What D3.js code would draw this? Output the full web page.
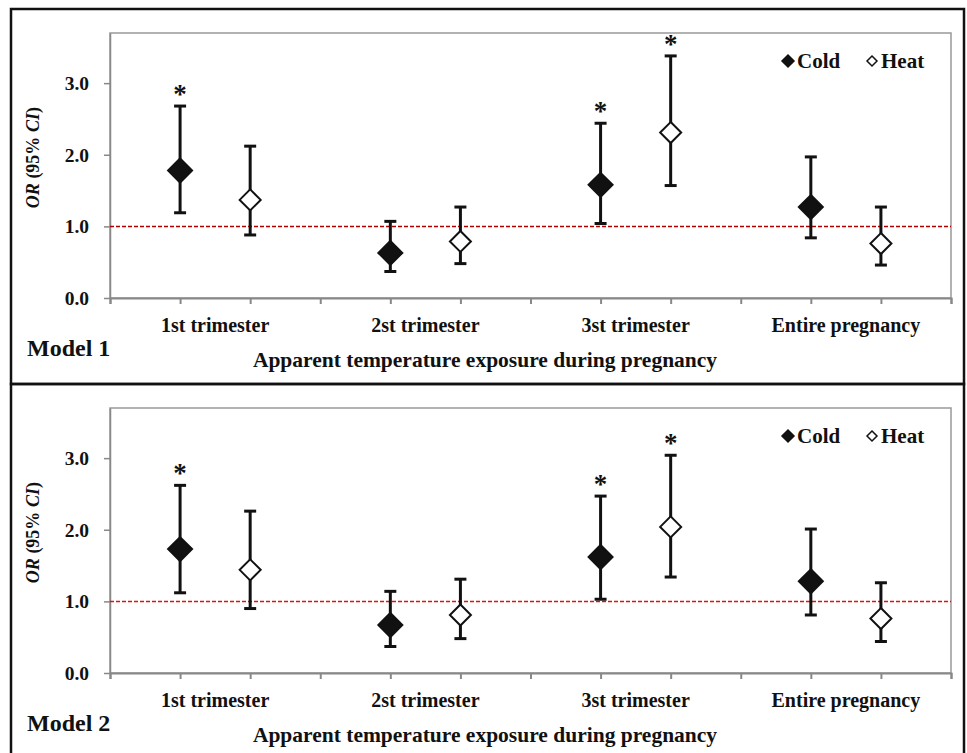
<!DOCTYPE html>
<html>
<head>
<meta charset="utf-8">
<script src="https://cdn.jsdelivr.net/npm/d3@7"></script>
<style>
  body { margin: 0; background: #fff; }
  svg { font-family: "Liberation Serif", "Times New Roman", "DejaVu Serif", serif; }
  svg text { font-family: "Liberation Serif", "Times New Roman", "DejaVu Serif", serif; font-weight: bold; fill: #111; }
  .axis path, .axis line { stroke: #888; }
</style>
</head>
<body>
<script>
// categories along the x axis
var categories = ["1st trimester", "2st trimester", "3st trimester", "Entire pregnancy"];
var seriesNames = ["Cold", "Heat"];
var yTicks = [0, 1, 2, 3];

// Model 1 odds ratios and 95% CI
var m1ColdOR   = [1.78, 0.63, 1.58, 1.27];
var m1ColdLow  = [1.19, 0.37, 1.04, 0.84];
var m1ColdHigh = [2.68, 1.07, 2.44, 1.97];
var m1HeatOR   = [1.37, 0.79, 2.31, 0.76];
var m1HeatLow  = [0.88, 0.48, 1.57, 0.46];
var m1HeatHigh = [2.12, 1.27, 3.38, 1.27];
var m1ColdSig  = [true, false, true, false];
var m1HeatSig  = [false, false, true, false];

// Model 2 odds ratios and 95% CI
var m2ColdOR   = [1.73, 0.67, 1.62, 1.28];
var m2ColdLow  = [1.12, 0.37, 1.03, 0.81];
var m2ColdHigh = [2.62, 1.14, 2.47, 2.01];
var m2HeatOR   = [1.44, 0.81, 2.04, 0.76];
var m2HeatLow  = [0.90, 0.48, 1.34, 0.44];
var m2HeatHigh = [2.26, 1.31, 3.04, 1.26];
var m2ColdSig  = [true, false, true, false];
var m2HeatSig  = [false, false, true, false];

var FONT = "'Liberation Serif', 'Times New Roman', 'DejaVu Serif', serif";
var W = 967, H = 753;
var svg = d3.select("body").append("svg").attr("width", W).attr("height", H)
  .attr("font-family", FONT);

function rows(or, lo, hi, sig, s) {
  return categories.map(function(c, i) {
    return { cat: i, series: s, or: or[i], lo: lo[i], hi: hi[i], sig: sig[i] };
  });
}

function drawPanel(top, label, refColor, data) {
  var g = svg.append("g").attr("transform", "translate(0," + top + ")");

  // outer frame
  g.append("rect")
    .attr("x", 11).attr("y", 9).attr("width", 953).attr("height", top === 0 ? 375 : 380)
    .attr("fill", "none").attr("stroke", "#111").attr("stroke-width", 2.5);

  var x = d3.scaleLinear().domain([0, 12]).range([110, 951]);
  var y = d3.scaleLinear().domain([0, 3.7]).range([298, 33]);

  // plot area border
  g.append("rect")
    .attr("x", x(0)).attr("y", y(3.7)).attr("width", x(12) - x(0)).attr("height", y(0) - y(3.7))
    .attr("fill", "none").attr("stroke", "#999").attr("stroke-width", 1.5);

  var xAxis = d3.axisBottom(x).tickValues(d3.range(0, 13)).tickFormat("").tickSize(6).tickSizeOuter(6);
  g.append("g").attr("class", "axis").attr("transform", "translate(0," + y(0) + ")")
    .call(xAxis)
    .call(function(a) { a.selectAll("path, line").attr("stroke-width", 2); });

  var yAxis = d3.axisLeft(y).tickValues(yTicks).tickFormat(d3.format(".1f")).tickSize(6).tickSizeOuter(0);
  g.append("g").attr("class", "axis").attr("transform", "translate(" + x(0) + ",0)")
    .call(yAxis)
    .call(function(a) {
      a.attr("font-family", FONT);
      a.selectAll("path, line").attr("stroke-width", 1.5);
      a.selectAll("text").attr("font-size", 19.5).attr("x", -21).attr("fill", "#111")
        .style("font-family", FONT).style("font-weight", "bold");
    });

  // reference line at OR = 1
  g.append("line")
    .attr("x1", x(0)).attr("x2", x(12)).attr("y1", y(1)).attr("y2", y(1))
    .attr("stroke", refColor).attr("stroke-width", 1.5).attr("stroke-dasharray", "4,2");

  // category labels
  g.selectAll("text.cat").data(categories).enter().append("text")
    .attr("class", "cat")
    .attr("x", function(d, i) { return x(3 * i + 1.5); })
    .attr("y", 332)
    .attr("text-anchor", "middle").attr("font-size", 20)
    .text(function(d) { return d; });

  function xPos(d) { return x(3 * d.cat + (d.series === "Cold" ? 1 : 2)); }

  // error bars
  var eb = g.selectAll("g.eb").data(data).enter().append("g").attr("class", "eb");
  eb.append("line")
    .attr("x1", xPos).attr("x2", xPos)
    .attr("y1", function(d) { return y(d.lo); }).attr("y2", function(d) { return y(d.hi); })
    .attr("stroke", "#111").attr("stroke-width", 3);
  eb.append("line")
    .attr("x1", function(d) { return xPos(d) - 6; }).attr("x2", function(d) { return xPos(d) + 6; })
    .attr("y1", function(d) { return y(d.hi); }).attr("y2", function(d) { return y(d.hi); })
    .attr("stroke", "#111").attr("stroke-width", 3);
  eb.append("line")
    .attr("x1", function(d) { return xPos(d) - 6; }).attr("x2", function(d) { return xPos(d) + 6; })
    .attr("y1", function(d) { return y(d.lo); }).attr("y2", function(d) { return y(d.lo); })
    .attr("stroke", "#111").attr("stroke-width", 3);

  // markers
  g.selectAll("path.pt").data(data).enter().append("path")
    .attr("class", "pt")
    .attr("d", function(d) { return d.series === "Cold" ? "M0,-12L12,0L0,12L-12,0Z" : "M0,-10.5L10.5,0L0,10.5L-10.5,0Z"; })
    .attr("transform", function(d) { return "translate(" + xPos(d) + "," + y(d.or) + ")"; })
    .attr("fill", function(d) { return d.series === "Cold" ? "#111" : "#fff"; })
    .attr("stroke", "#111").attr("stroke-width", 2);

  // significance stars
  g.selectAll("text.star").data(data.filter(function(d) { return d.sig; })).enter().append("text")
    .attr("class", "star")
    .attr("x", xPos)
    .attr("y", function(d) { return y(d.hi) - 3; })
    .attr("text-anchor", "middle").attr("font-size", 27)
    .text("*");

  // legend
  var leg = g.append("g").attr("transform", "translate(788,61)");
  seriesNames.forEach(function(s, i) {
    var lx = i * 84;
    leg.append("path")
      .attr("d", i === 0 ? "M0,-6L6,0L0,6L-6,0Z" : "M0,-5L5,0L0,5L-5,0Z")
      .attr("transform", "translate(" + lx + ",0)")
      .attr("fill", i === 0 ? "#111" : "#fff").attr("stroke", "#111").attr("stroke-width", 1.5);
    leg.append("text").attr("x", lx + 9).attr("y", 6.5).attr("font-size", 21).text(s);
  });

  // y axis title
  var yt = g.append("text")
    .attr("transform", "translate(39," + y(1.96) + ")rotate(-90)")
    .attr("text-anchor", "middle").attr("font-size", 18);
  yt.append("tspan").attr("font-style", "italic").text("OR");
  yt.append("tspan").text(" (95% ");
  yt.append("tspan").attr("font-style", "italic").text("CI");
  yt.append("tspan").text(")");

  // x axis title
  g.append("text")
    .attr("x", 485).attr("y", 367)
    .attr("text-anchor", "middle").attr("font-size", 21.5)
    .text("Apparent temperature exposure during pregnancy");

  // model label
  g.append("text")
    .attr("x", 27).attr("y", 356).attr("font-size", 24)
    .text(label);
}

drawPanel(0, "Model 1", "#b00000",
  rows(m1ColdOR, m1ColdLow, m1ColdHigh, m1ColdSig, "Cold")
    .concat(rows(m1HeatOR, m1HeatLow, m1HeatHigh, m1HeatSig, "Heat")));
drawPanel(375, "Model 2", "#e01010",
  rows(m2ColdOR, m2ColdLow, m2ColdHigh, m2ColdSig, "Cold")
    .concat(rows(m2HeatOR, m2HeatLow, m2HeatHigh, m2HeatSig, "Heat")));
</script>
</body>
</html>
